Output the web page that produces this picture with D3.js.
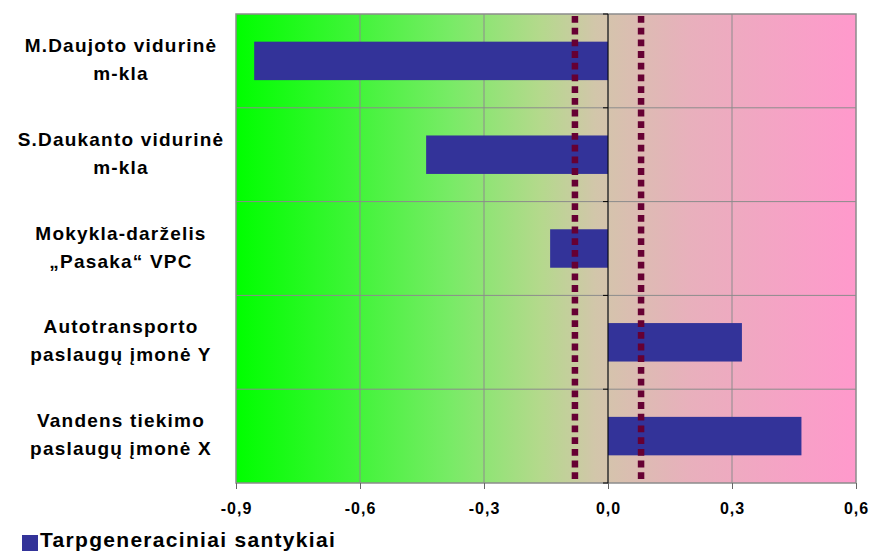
<!DOCTYPE html>
<html>
<head>
<meta charset="utf-8">
<script src="https://cdn.jsdelivr.net/npm/d3@7"></script>
<style>
  body { margin: 0; background: #fff; }
  text { font-family: "Liberation Sans", Arial, sans-serif; font-weight: bold; fill: #000; }
</style>
</head>
<body>
<svg class="js-graph"></svg>
<script>
(function chartModule(d3) {
  /* <DATASET> */
  var categories = [
    ['M.Daujoto vidurinė', 'm-kla'],
    ['S.Daukanto vidurinė', 'm-kla'],
    ['Mokykla-darželis', '„Pasaka“ VPC'],
    ['Autotransporto', 'paslaugų įmonė Y'],
    ['Vandens tiekimo', 'paslaugų įmonė X']
  ];
  var values = [-0.856, -0.44, -0.14, 0.324, 0.468];
  var thresholds = [-0.08, 0.08];
  var xTicks = [-0.9, -0.6, -0.3, 0, 0.3, 0.6];
  var seriesName = 'Tarpgeneraciniai santykiai';
  /* </DATASET> */

  var width = 872;
  var height = 552;
  var margin = { top: 14, right: 16, bottom: 69, left: 236 };
  var innerW = width - margin.left - margin.right;
  var innerH = height - margin.top - margin.bottom;

  var svg = d3.select('.js-graph')
    .attr('width', width)
    .attr('height', height);

  // background gradient, green -> tan -> pink
  var grad = svg.append('defs').append('linearGradient')
    .attr('id', 'bg-grad')
    .attr('x1', '0%').attr('x2', '100%')
    .attr('y1', '0%').attr('y2', '0%');
  [
    [0, '#00ff00'], [0.18, '#3cf535'], [0.345, '#78eb66'],
    [0.49, '#b4d98c'], [0.58, '#d2c6aa'], [0.73, '#e8b0bc'], [1, '#ff99cc']
  ].forEach(function addStop(s) {
    grad.append('stop').attr('offset', s[0]).attr('stop-color', s[1]);
  });

  var g = svg.append('g')
    .attr('transform', 'translate(' + margin.left + ',' + margin.top + ')');

  var x = d3.scaleLinear().domain([-0.9, 0.6]).range([0, innerW]);
  var y = d3.scaleBand()
    .domain(d3.range(categories.length))
    .range([0, innerH])
    .paddingInner(0.59)
    .paddingOuter(0.295);

  g.append('rect')
    .attr('width', innerW)
    .attr('height', innerH)
    .attr('fill', 'url(#bg-grad)');

  // vertical gridlines
  g.selectAll('line.vgrid')
    .data(xTicks.slice(1, -1))
    .enter().append('line')
    .attr('class', 'vgrid')
    .attr('x1', function (d) { return x(d); })
    .attr('x2', function (d) { return x(d); })
    .attr('y1', 0).attr('y2', innerH)
    .attr('stroke', '#8c8c8c').attr('stroke-width', 1);

  // horizontal gridlines between categories
  var step = y.step();
  g.selectAll('line.hgrid')
    .data(d3.range(1, categories.length))
    .enter().append('line')
    .attr('class', 'hgrid')
    .attr('x1', 0).attr('x2', innerW)
    .attr('y1', function (d) { return d * step; })
    .attr('y2', function (d) { return d * step; })
    .attr('stroke', '#8c8c8c').attr('stroke-width', 1);

  // plot border
  g.append('rect')
    .attr('width', innerW)
    .attr('height', innerH)
    .attr('fill', 'none')
    .attr('stroke', '#8c8c8c')
    .attr('stroke-width', 1.5);

  // bars
  g.selectAll('rect.bar')
    .data(values)
    .enter().append('rect')
    .attr('class', 'bar')
    .attr('x', function (d) { return x(Math.min(0, d)); })
    .attr('width', function (d) { return Math.abs(x(d) - x(0)); })
    .attr('y', function (d, i) { return y(i); })
    .attr('height', y.bandwidth())
    .attr('fill', '#333399');

  // dotted threshold lines
  g.selectAll('line.thr')
    .data(thresholds)
    .enter().append('line')
    .attr('class', 'thr')
    .attr('x1', function (d) { return x(d); })
    .attr('x2', function (d) { return x(d); })
    .attr('y1', 2).attr('y2', innerH)
    .attr('stroke', '#660033')
    .attr('stroke-width', 6.5)
    .attr('stroke-dasharray', '6.8 4.9');

  // zero axis with category ticks
  var zero = g.append('g').attr('transform', 'translate(' + x(0) + ',0)');
  zero.append('line')
    .attr('y1', 0).attr('y2', innerH)
    .attr('stroke', '#000').attr('stroke-width', 1);
  zero.selectAll('line.ytick')
    .data(d3.range(0, categories.length + 1))
    .enter().append('line')
    .attr('class', 'ytick')
    .attr('x1', -5).attr('x2', 0)
    .attr('y1', function (d) { return d * step; })
    .attr('y2', function (d) { return d * step; })
    .attr('stroke', '#000');

  // x axis
  var xAxis = g.append('g')
    .attr('transform', 'translate(0,' + innerH + ')')
    .call(d3.axisBottom(x)
      .tickValues(xTicks)
      .tickSize(6)
      .tickPadding(14)
      .tickFormat(function (d) { return d3.format('.1f')(d).replace('.', ',').replace('−', '-'); }));
  xAxis
    .attr('font-size', 16)
    .attr('font-family', '"Liberation Sans", Arial, sans-serif')
    .attr('font-weight', 'bold');
  xAxis.select('.domain').remove();
  xAxis.selectAll('.tick line').attr('stroke', '#666');
  xAxis.selectAll('.tick text')
    .attr('font-size', 16)
    .style('font-size', '16px')
    .style('letter-spacing', '1px')
    .attr('fill', '#000');

  // category labels
  var labels = svg.append('g');
  categories.forEach(function drawLabel(lines, i) {
    var cy = margin.top + y(i) + y.bandwidth() / 2 - 2;
    var t = labels.append('text')
      .attr('x', 121)
      .attr('y', cy)
      .attr('text-anchor', 'middle')
      .style('font-size', '19px')
      .style('letter-spacing', '1.2px');
    t.append('tspan').attr('x', 121).attr('dy', '-0.36em').text(lines[0]);
    t.append('tspan').attr('x', 121).attr('dy', '1.47em').text(lines[1]);
  });

  // legend
  var legend = svg.append('g').attr('transform', 'translate(22,533)');
  legend.append('rect')
    .attr('width', 16).attr('height', 16)
    .attr('y', 2)
    .attr('fill', '#333399');
  legend.append('text')
    .attr('x', 18).attr('y', 14)
    .style('font-size', '21px')
    .style('letter-spacing', '1.3px')
    .text(seriesName);
}(d3));
</script>
</body>
</html>
